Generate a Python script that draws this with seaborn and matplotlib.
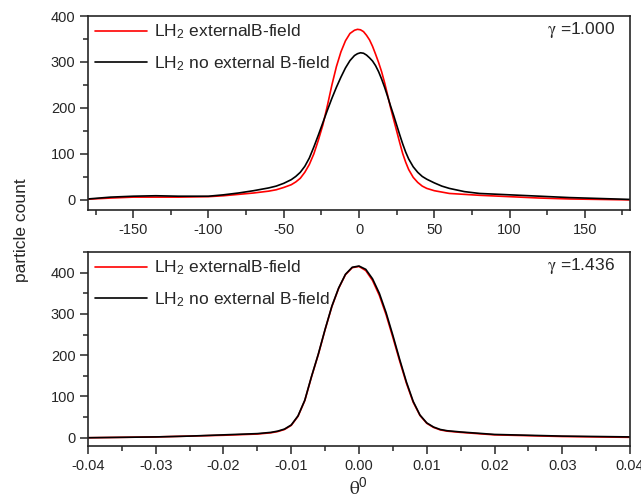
#-- angular distribution of particles, LH2 with / without external B-field --

import pandas as pd
import matplotlib.pyplot as plt
import numpy as np
import seaborn as sns

sns.set_style('ticks')
plt.rcParams.update({'font.family'       : ['Liberation Sans', 'DejaVu Sans'],
                     'mathtext.fontset'  : 'stix',
                     'axes.unicode_minus': False,
                     'font.size'         : 12,
                     'xtick.labelsize'   : 10.5,
                     'ytick.labelsize'   : 10.5,
                     'lines.solid_joinstyle': 'round',
                     'axes.linewidth'    : 1.2})

#--data--
theta_top = [-180, -165, -150, -135, -120, -100, -90, -80, -70, -60, -55, -50, -45, -42, -39, -36, -33, -30,
             -27, -24, -21, -18, -15, -12, -9, -6, -3, -1, 1, 3, 5, 7, 9, 11, 13, 15, 17, 19, 21, 23, 25,
             27, 29, 31, 33, 36, 39, 42, 45, 50, 55, 60, 70, 80, 100, 120, 140, 160, 180]
red_top   = [1.5, 4, 6, 6, 6, 7, 9, 12, 15, 19, 22, 27, 33, 39, 47, 60, 77, 100,
             130, 163, 205, 250, 290, 322, 346, 362, 369, 371, 370, 366, 358, 348, 334, 317, 299, 279, 255, 228, 200, 175, 150,
             125, 101, 82, 66, 49, 38, 30, 25, 20, 17, 14, 12, 10, 7, 4, 2, 1, 0]
black_top = [2, 6, 8, 9, 8, 8, 11, 15, 20, 26, 30, 36, 44, 51, 60, 73, 91, 115,
             141, 168, 195, 221, 245, 267, 287, 303, 314, 318, 320, 319, 315, 309, 302, 292, 279, 263, 245, 225, 204, 184, 163,
             142, 122, 104, 89, 72, 60, 51, 45, 37, 30, 25, 18, 14, 11, 8, 5, 3, 1]

theta_bot = [-0.04, -0.035, -0.03, -0.025, -0.02, -0.015, -0.013, -0.012, -0.011, -0.010, -0.009, -0.008,
             -0.007, -0.006, -0.005, -0.004, -0.003, -0.002, -0.001, 0.0, 0.001, 0.002, 0.003, 0.004,
             0.005, 0.006, 0.007, 0.008, 0.009, 0.010, 0.011, 0.012, 0.013, 0.015, 0.02, 0.025, 0.03,
             0.035, 0.04]
red_bot   = [0, 1, 2, 4, 6, 9, 12, 15, 20, 30, 52, 90,
             148, 202, 262, 318, 362, 395, 412, 415, 405, 381, 345, 298,
             243, 186, 132, 86, 54, 35, 25, 19, 16, 13, 7, 5, 3,
             2, 1]
black_bot = [0, 1, 2, 4, 7, 10, 13, 16, 21, 31, 53, 91,
             149, 203, 263, 319, 363, 396, 413, 416, 408, 385, 350, 303,
             248, 190, 135, 88, 55, 36, 26, 20, 17, 14, 8, 6, 4,
             3, 2]

lab_red   = r'LH$_\mathregular{2}$ externalB-field'
lab_black = r'LH$_\mathregular{2}$ no external B-field'

fig = plt.figure(figsize=(6.41, 4.99), dpi=100)
ax1 = fig.add_axes([88/641, 1-210/499, 542/641, 194/499])
ax2 = fig.add_axes([88/641, 1-446/499, 542/641, 194/499])

panels = [(ax1, theta_top, red_top, black_top, '1.000', (-180, 180), (-22, 400), 50, 25, '%d'),
          (ax2, theta_bot, red_bot, black_bot, '1.436', (-0.04, 0.04), (-20, 450), 0.01, 0.005, '%.2f')]

for ax, th, red, black, gam, xl, yl, xmaj, xmin, fmt in panels:
    df_red = pd.DataFrame({'theta': th, 'count': red})
    df_black = pd.DataFrame({'theta': th, 'count': black})
    sns.lineplot(x='theta', y='count', data=df_red, ax=ax, color='#ff0000', lw=1.2, label=lab_red)
    sns.lineplot(x='theta', y='count', data=df_black, ax=ax, color='black', lw=1.2, label=lab_black)
    ax.set_xlim(*xl)
    ax.set_ylim(*yl)
    ax.xaxis.set_major_locator(plt.MultipleLocator(xmaj))
    ax.xaxis.set_minor_locator(plt.MultipleLocator(xmin))
    ax.xaxis.set_major_formatter(plt.FormatStrFormatter(fmt))
    ax.yaxis.set_major_locator(plt.FixedLocator([0, 100, 200, 300, 400]))
    ax.yaxis.set_minor_locator(plt.MultipleLocator(50))
    ax.tick_params(which='major', direction='out', length=6, width=1.1, pad=3, top=False, right=False)
    ax.tick_params(which='minor', direction='out', length=3.5, width=1.1, top=False, right=False)
    for s in ax.spines.values():
        s.set_visible(True)
    ax.set_xlabel('')
    ax.set_ylabel('')
    ax.text(0.972, 0.928, r'$\mathrm{\gamma}$ =' + gam, transform=ax.transAxes,
            ha='right', va='center', fontsize=12.5)
    ax.legend(loc='upper left', frameon=False, fontsize=12.5, handlelength=3.0,
              handletextpad=0.4, labelspacing=0.75, borderaxespad=0.15, borderpad=0.25)

# top panel: no labels at the +-180 limits
ax1.set_xticks([-150, -100, -50, 0, 50, 100, 150])
ax1.set_xticks(np.arange(-175, 180, 25), minor=True)
ax2.set_xlabel(r'$\mathrm{\theta}^{\mathregular{0}}$', fontsize=14, labelpad=3)
fig.text(22/641, 1-230/499, 'particle count', rotation=90, ha='center', va='center', fontsize=12.5)

plt.savefig('out.png', dpi=100)
